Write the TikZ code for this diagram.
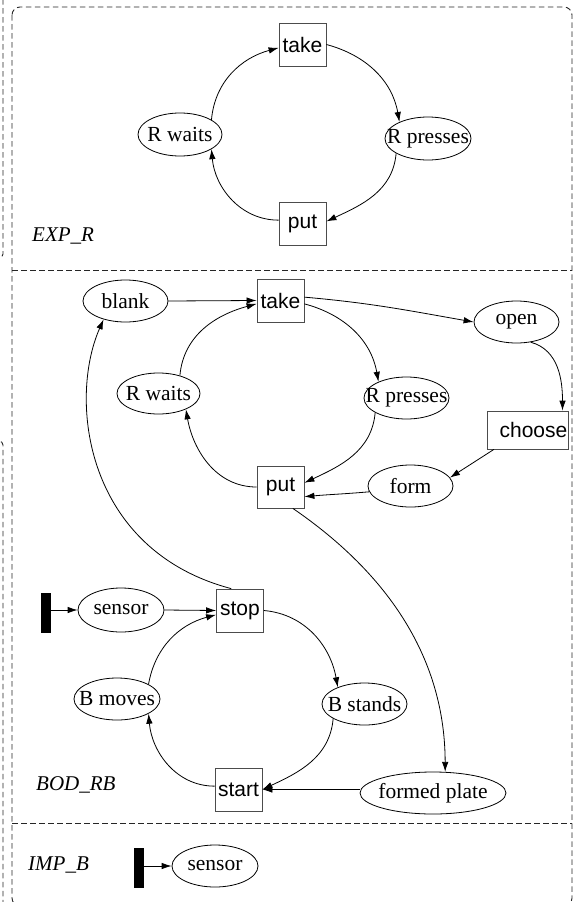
\documentclass[tikz,border=0pt]{standalone}
\usepackage{fontspec}
\setmainfont{Liberation Serif}
\setsansfont{Liberation Sans}
\usetikzlibrary{arrows.meta,shapes.geometric}
\newcommand{\ztxt}[1]{\makebox[0pt]{#1}}
\begin{document}
\begin{tikzpicture}[x=1pt,y=1pt,
  ell/.style={ellipse,draw=black,line width=0.8pt,inner sep=0pt,minimum width=85pt,minimum height=42pt,font=\rmfamily\fontsize{21.5}{24}\selectfont},
  bx/.style={rectangle,draw=black!70,line width=0.8pt,inner sep=0pt,minimum width=47pt,minimum height=43pt,font=\sffamily\fontsize{21}{24}\selectfont},
  blk/.style={rectangle,fill=black,inner sep=0pt,minimum width=10pt,minimum height=40pt},
  arr/.style={-{Latex[length=10pt,width=6.5pt]},line width=0.8pt},
  lbl/.style={font=\rmfamily\itshape\fontsize{21}{24}\selectfont,anchor=base west,inner sep=0pt},
  dsh/.style={draw=black!85,line width=0.9pt,dash pattern=on 5.5pt off 3.5pt}]
\clip (0,0) rectangle (573,-902);
% borders
\draw[dsh, rounded corners=8pt] (12,-7) rectangle (572,-906);
\draw[dsh] (12,-270) -- (572,-270);
\draw[dsh] (12,-823) -- (572,-823);
\draw[dsh, rounded corners=4pt] (3,10) -- (3,-258) -- (-8,-258);
\draw[dsh, rounded corners=4pt] (-8,-441) -- (3,-441) -- (3,-910);
% EXP_R
\node[bx] (tk1) at (302.5,-44.5) {take};
\node[ell, minimum width=86pt, minimum height=43pt] (rp1) at (428,-138.5) {\ztxt{R presses}};
\node[bx] (pt1) at (302.5,-223.5) {put};
\node[ell, minimum width=84pt, minimum height=43pt] (rw1) at (180,-134.5) {\ztxt{R waits}};
\node[lbl] (lexp) at (32,-241) {EXP\_R};
\draw[arr] (rw1.25) to[out=85,in=195] (tk1.188);
\draw[arr] (tk1.east) to[out=-15,in=100] (rp1.150);
\draw[arr] (rp1.205) to[out=265,in=25] (pt1.5);
\draw[arr] (pt1.172) to[out=180,in=275] (rw1.-25);
% BOD_RB upper
\node[ell] (bl) at (125.5,-301) {\ztxt{blank}};
\node[bx] (tk2) at (280.5,-300.5) {take};
\node[ell] (op) at (516.5,-322) {\ztxt{open}};
\node[ell, minimum width=83pt, minimum height=41pt] (rw2) at (158.5,-393.5) {\ztxt{R waits}};
\node[ell] (rp2) at (406.5,-398) {\ztxt{R presses}};
\node[bx, minimum width=81pt, minimum height=38pt] (ch) at (527.5,-430) {\hspace*{12pt}choose};
\node[bx, minimum height=42pt] (pt2) at (280.5,-487) {put};
\node[ell] (fm) at (410.5,-486) {\ztxt{form}};
\draw[arr] (bl.east) -- (tk2.west);
\draw[arr] (rw2.40) to[out=85,in=195] (tk2.188);
\draw[arr] (tk2.8) to[out=-5,in=170] (op.west);
\draw[arr] (tk2.-8) to[out=-15,in=100] (rp2.150);
\draw[arr] (rp2.205) to[out=265,in=25] (pt2.10);
\draw[arr] (pt2.west) to[out=180,in=280] (rw2.-30);
\draw[arr] (op.-55) to[out=-15,in=90] (ch.29);
\draw[arr] (ch.-150) -- (fm.12);
\draw[arr] (fm.188) to[out=185,in=5] (pt2.-22);
% BOD_RB lower
\node[blk] (br1) at (46,-613) {};
\node[ell, minimum width=86pt, minimum height=44pt] (sn1) at (121,-610) {\ztxt{sensor}};
\node[bx] (stp) at (240,-610.5) {stop};
\node[ell] (bs) at (364.5,-704) {\ztxt{B stands}};
\node[ell, minimum width=86pt] (bm) at (117,-699) {\ztxt{B moves}};
\node[bx] (st) at (238.5,-789.5) {start};
\node[ell, minimum width=146pt] (fp) at (433,-793) {\ztxt{formed plate}};
\node[lbl] (lbod) at (36,-790) {BOD\_RB};
\draw[arr] (pt2.-60) .. controls (390,-575) and (445,-660) .. (fp.60);
\draw[arr] (stp.112) .. controls (85,-550) and (68,-400) .. (bl.220);
\draw[arr] (br1.east |- sn1.west) -- (sn1.west);
\draw[arr] (sn1.east) -- (stp.west);
\draw[arr] (stp.east) to[out=-5,in=100] (bs.148);
\draw[arr] (bs.205) to[out=265,in=25] (st.east);
\draw[arr] (st.172) to[out=180,in=275] (bm.-25);
\draw[arr] (bm.25) to[out=80,in=195] (stp.190);
\draw[arr] (fp.west |- st.east) -- (st.east);
% IMP_B
\node[lbl] (limp) at (28,-870) {IMP\_B};
\node[blk] (br2) at (139,-868) {};
\node[ell, minimum width=86pt] (sn2) at (215,-866) {\ztxt{sensor}};
\draw[arr] (br2.east |- sn2.west) -- (sn2.west);
\end{tikzpicture}
\end{document}
